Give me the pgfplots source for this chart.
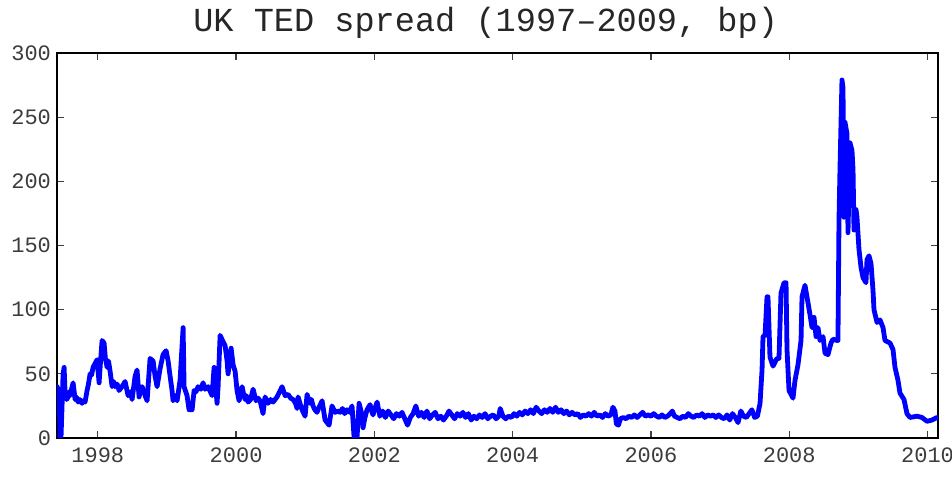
\documentclass[border=0pt]{standalone}
\usepackage{pgfplots}
\pgfplotsset{compat=1.18}
\usepackage{fontspec}
\setmainfont{Liberation Mono}
\definecolor{tedblue}{RGB}{0,0,255}
\definecolor{lblgray}{RGB}{60,60,60}
\begin{document}
\begin{tikzpicture}
\path[use as bounding box] (-42.75pt,-29.25pt) rectangle (671.25pt,328.5pt);
\begin{axis}[
  at={(0,0)}, anchor=south west,
  scale only axis,
  width=660.75pt, height=288.75pt,
  xmin=1997.41, xmax=2010.152,
  ymin=0, ymax=300,
  xtick={1998,2000,2002,2004,2006,2008,2010},
  ytick={0,50,100,150,200,250,300},
  tick align=inside,
  major tick length=5.5pt,
  tick style={black!75, line width=0.9pt},
  axis line style={black, line width=1.1pt},
  /pgf/number format/.cd, 1000 sep={}, assume math mode=true, /pgfplots/.cd,
  xticklabel style={font=\fontsize{16.5}{18}\selectfont, text=lblgray, yshift=-4pt},
  yticklabel style={font=\fontsize{16.5}{18}\selectfont, text=lblgray, xshift=-1pt},
  clip=true,
]
\addplot[tedblue, line width=3.6pt, line join=round, line cap=round] coordinates {
(1997.411,40) (1997.440,36) (1997.455,0) (1997.469,2) (1997.498,50) (1997.513,55)
(1997.527,35) (1997.550,30) (1997.571,32) (1997.585,36) (1997.599,33) (1997.620,38) (1997.643,43) (1997.672,30) (1997.690,32) (1997.715,28)
(1997.740,30) (1997.773,27) (1997.795,29) (1997.816,28) (1997.845,37) (1997.865,42) (1997.889,50) (1997.910,49) (1997.932,55) (1997.960,58) (1997.990,61)
(1998.019,43) (1998.040,60) (1998.062,76) (1998.091,74) (1998.110,62) (1998.135,55) (1998.155,60) (1998.178,52) (1998.207,40)
(1998.230,44) (1998.250,40) (1998.280,42) (1998.308,37) (1998.350,40) (1998.395,44) (1998.438,33) (1998.470,36) (1998.496,30) (1998.539,48)
(1998.568,53) (1998.597,32) (1998.620,38) (1998.641,40) (1998.684,33) (1998.713,29) (1998.756,62)
(1998.800,60) (1998.829,48) (1998.858,40) (1998.901,54) (1998.944,65) (1998.988,68)
(1999.017,60) (1999.046,48) (1999.074,37) (1999.089,29) (1999.120,33) (1999.147,29) (1999.190,45)
(1999.234,86) (1999.248,40) (1999.291,33) (1999.320,22) (1999.364,22) (1999.393,37)
(1999.420,36) (1999.450,40) (1999.490,38) (1999.523,43) (1999.552,38) (1999.595,40) (1999.653,33) (1999.682,55)
(1999.725,27) (1999.740,40) (1999.769,80) (1999.812,75) (1999.841,72) (1999.870,60)
(1999.884,50) (1999.928,70) (1999.957,57) (1999.986,52) (2000.014,37) (2000.043,29)
(2000.087,40) (2000.110,34) (2000.130,30) (2000.150,33) (2000.174,28) (2000.210,30) (2000.246,38) (2000.289,29) (2000.320,31) (2000.347,29)
(2000.390,19) (2000.419,32) (2000.463,27) (2000.500,30) (2000.535,28) (2000.593,32) (2000.630,36) (2000.665,40)
(2000.709,33) (2000.752,34) (2000.790,31) (2000.824,30) (2000.860,27) (2000.882,23) (2000.897,32) (2000.930,26) (2000.954,22)
(2000.998,17) (2001.027,34) (2001.070,27) (2001.090,30) (2001.113,25) (2001.140,22) (2001.171,20) (2001.200,24) (2001.244,29)
(2001.287,14) (2001.345,10) (2001.388,25) (2001.432,20) (2001.475,21) (2001.504,20)
(2001.540,23) (2001.570,19) (2001.605,22) (2001.640,20) (2001.677,25) (2001.706,1) (2001.750,1) (2001.779,27) (2001.822,18)
(2001.837,8) (2001.860,15) (2001.894,22) (2001.938,26) (2001.960,21) (2001.981,18) (2002.000,22)
(2002.04,28) (2002.08,17) (2002.12,21) (2002.16,16) (2002.20,21) (2002.24,18) (2002.28,15)
(2002.32,19) (2002.36,17) (2002.40,20) (2002.44,15) (2002.48,10) (2002.52,16) (2002.56,19)
(2002.60,25) (2002.64,17) (2002.68,20) (2002.72,16) (2002.76,21) (2002.80,15) (2002.84,18)
(2002.88,20) (2002.92,15) (2002.96,17) (2003.00,14) (2003.04,17) (2003.08,21) (2003.12,18)
(2003.16,15) (2003.20,19) (2003.24,17) (2003.28,20) (2003.32,16) (2003.36,19) (2003.40,14)
(2003.44,17) (2003.48,15) (2003.52,18) (2003.56,16) (2003.60,19) (2003.64,15) (2003.68,17)
(2003.72,18) (2003.76,15) (2003.80,17) (2003.82,23) (2003.86,17) (2003.90,15) (2003.94,17)
(2003.98,16) (2004.02,19) (2004.06,17) (2004.10,20) (2004.14,18) (2004.18,21) (2004.22,19)
(2004.26,22) (2004.30,19) (2004.34,24) (2004.38,21) (2004.42,19) (2004.46,22) (2004.50,20)
(2004.54,23) (2004.58,20) (2004.62,24) (2004.66,20) (2004.70,22) (2004.74,19) (2004.78,21)
(2004.82,18) (2004.86,20) (2004.90,18) (2004.94,19) (2004.98,16) (2005.02,18) (2005.06,17)
(2005.10,19) (2005.14,17) (2005.18,20) (2005.22,17) (2005.26,18) (2005.30,16) (2005.34,19)
(2005.38,17) (2005.42,18) (2005.45,24) (2005.48,21) (2005.50,11) (2005.53,10) (2005.56,15)
(2005.60,16) (2005.64,15) (2005.68,17) (2005.72,16) (2005.76,18) (2005.80,16) (2005.84,18)
(2005.88,20) (2005.92,17) (2005.96,18) (2006.00,17) (2006.04,19) (2006.08,17) (2006.12,16)
(2006.16,18) (2006.20,16) (2006.24,17) (2006.28,19) (2006.31,21) (2006.34,17) (2006.38,16)
(2006.42,15) (2006.46,17) (2006.50,16) (2006.54,19) (2006.58,17) (2006.62,16) (2006.66,18)
(2006.70,17) (2006.74,19) (2006.78,16) (2006.82,18) (2006.86,17) (2006.90,18) (2006.94,16)
(2006.98,18) (2007.02,16) (2007.06,15) (2007.10,18) (2007.14,14) (2007.18,19) (2007.22,16)
(2007.26,12) (2007.30,21) (2007.34,17) (2007.38,16) (2007.42,19) (2007.46,22) (2007.50,16)
(2007.54,17) (2007.578,27) (2007.607,53) (2007.621,79) (2007.650,80)
(2007.679,110) (2007.693,110) (2007.722,63) (2007.766,56) (2007.823,62) (2007.852,62)
(2007.881,113) (2007.925,121) (2007.954,121) (2007.968,69) (2007.997,37) (2008.055,31)
(2008.084,45) (2008.127,57) (2008.171,76) (2008.185,110) (2008.228,119) (2008.257,110)
(2008.301,96) (2008.330,86) (2008.359,94) (2008.388,79) (2008.416,86) (2008.445,76)
(2008.489,79) (2008.518,66) (2008.561,65) (2008.604,74) (2008.633,77) (2008.691,76)
(2008.705,76) (2008.720,170) (2008.734,209) (2008.763,279) (2008.778,273) (2008.792,172)
(2008.807,246) (2008.836,237) (2008.850,160) (2008.879,230) (2008.908,224) (2008.923,209)
(2008.937,162) (2008.966,178) (2008.980,172) (2009.009,147) (2009.038,133) (2009.067,125)
(2009.110,121) (2009.125,139) (2009.154,142) (2009.183,136) (2009.212,115) (2009.226,100)
(2009.270,90) (2009.313,92) (2009.357,86) (2009.385,76) (2009.458,74) (2009.501,69)
(2009.530,55) (2009.573,45) (2009.602,35) (2009.660,30) (2009.703,19) (2009.747,16)
(2009.848,17) (2009.920,16) (2009.993,13) (2010.065,14) (2010.137,16)
};
\end{axis}
\node[anchor=base, font=\fontsize{25.2}{30}\selectfont, text=black!85] at (321.5pt,304.5pt) {UK TED spread (1997--2009, bp)};
\end{tikzpicture}
\end{document}
